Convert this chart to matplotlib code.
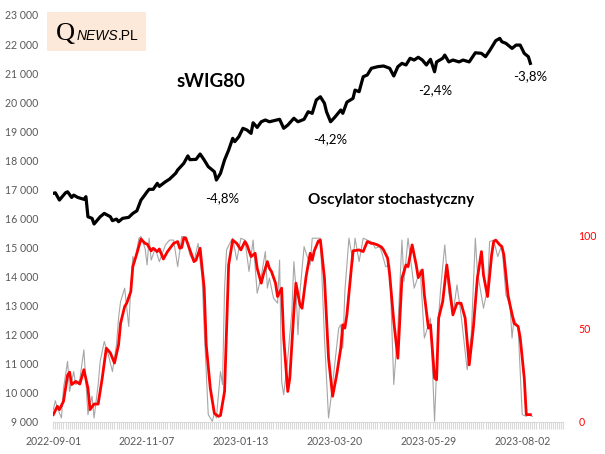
import matplotlib
matplotlib.use("Agg")
import matplotlib.pyplot as plt
from matplotlib.patches import Rectangle
from matplotlib.ticker import FuncFormatter, FixedLocator, MultipleLocator

plt.rcParams['font.family'] = ['Lato', 'DejaVu Sans']

# ---- x axis (trading-day index) ----
tick_days = [0, 46, 92, 138, 184, 230]
tick_labels = ['2022-09-01', '2022-11-07', '2023-01-13', '2023-03-20', '2023-05-29', '2023-08-02']
n_days = 250

# ---- sWIG80 index ----
black_day = [0, 1, 3, 6, 7, 9, 10, 12, 15, 16, 17, 19, 20, 23, 25, 28, 29, 31, 32, 34, 37, 39, 41, 43,
             44, 46, 47, 49, 51, 52, 55, 57, 60, 61, 64, 66, 67, 70, 72, 74, 76, 79, 80, 82, 84, 86,
             88, 89, 91, 93, 95, 97, 98, 100, 102, 104, 106, 111, 113, 115, 118, 120, 123, 125, 127,
             129, 131, 133, 134, 136, 138, 141, 142, 144, 147, 148, 150, 152, 154, 156, 159, 162,
             165, 167, 169, 171, 173, 175, 177, 179, 181, 183, 185, 187, 188, 191, 192, 194, 196,
             199, 201, 204, 207, 210, 212, 214, 217, 219, 220, 222, 225, 227, 229, 231, 233, 234]
black_val = [16862, 16880, 16630, 16880, 16915, 16720, 16800, 16720, 16655, 16745, 16055, 16000, 15805,
             16055, 16170, 16055, 15920, 15975, 15885, 16000, 16035, 16170, 16260, 16630, 16720, 16915,
             17000, 17000, 17205, 17100, 17260, 17350, 17550, 17665, 17895, 18150, 18020, 18030, 18215,
             18010, 17780, 17605, 17320, 17550, 18010, 18350, 18755, 18640, 18810, 19100, 19040, 18925,
             19290, 19130, 19325, 19385, 19325, 19410, 19100, 19210, 19445, 19325, 19410, 19670, 19615,
             20075, 20185, 19960, 19670, 19325, 19475, 19730, 19615, 20000, 20130, 20415, 20360, 20875,
             20935, 21165, 21220, 21245, 21165, 20900, 21220, 21335, 21280, 21510, 21450, 21545, 21450,
             21280, 21475, 21045, 21385, 21510, 21620, 21385, 21450, 21385, 21450, 21385, 21700, 21680,
             21565, 21770, 22115, 22195, 22080, 22025, 21850, 21965, 21965, 21680, 21565, 21335]

# ---- stochastic oscillator: %D (red, smoothed) ----
red_day = [0, 2, 3, 5, 7, 8, 9, 11, 13, 15, 17, 18, 20, 22, 24, 26, 28, 30, 32, 33, 35, 36, 38, 39, 41,
           43, 45, 46, 48, 49, 51, 52, 54, 56, 59, 61, 62, 63, 64, 65, 67, 69, 70, 72, 74, 75, 77, 79,
           81, 82, 84, 85, 86, 88, 90, 92, 94, 95, 97, 99, 100, 102, 103, 105, 106, 107, 109, 110, 112,
           113, 115, 116, 118, 119, 121, 122, 124, 126, 127, 128, 130, 131, 133, 135, 137, 139, 141,
           142, 143, 144, 146, 147, 150, 152, 154, 156, 157, 159, 161, 162, 164, 165, 167, 169, 171,
           173, 174, 176, 178, 179, 181, 182, 184, 185, 187, 188, 189, 191, 193, 194, 196, 198, 200,
           202, 204, 206, 208, 210, 211, 213, 215, 216, 217, 219, 220, 221, 223, 224, 226, 228, 229,
           231, 232, 234]
red_val = [3.8, 8.3, 6.5, 11, 25, 26.7, 20, 21.7, 20.3, 28, 18, 6.5, 9.5, 9.5, 23.5, 39.6, 37, 31.6, 41.4,
           53, 62, 63.8, 70, 83.5, 90.7, 98.4, 96, 95.7, 92, 93.4, 91.6, 93, 87.6, 91.6, 96, 97, 93.4,
           93.8, 99, 98.8, 92.5, 86.2, 87, 93.4, 71.9, 41.4, 18, 4.5, 2.9, 3.4, 16.3, 50.4, 84.4, 97.8,
           96, 92.5, 97, 95.2, 88.9, 90.7, 82.6, 74.6, 79, 86.2, 82.6, 80.9, 74.6, 67.4, 71.9, 45, 16.3,
           23.5, 59.4, 74.6, 62.9, 61.1, 78.2, 90.7, 87, 92, 97.3, 97.8, 77.3, 34.2, 13.7, 25.3, 39.6,
           52.2, 50.4, 57.5, 80.9, 92, 92.5, 91.6, 97, 96, 96, 95.2, 94, 92.5, 88, 79, 54, 34.2, 77.3,
           84.4, 83.5, 95.2, 84.4, 77.6, 81.7, 68.3, 50.4, 52.2, 23.5, 22.6, 55.8, 64.7, 84.4, 75.5,
           57.5, 63.8, 63.8, 55.8, 30.6, 50.4, 77.3, 91.6, 79, 67.4, 89.8, 97, 97.8, 95.2, 94.3, 89.8,
           68.3, 62.9, 53, 51.3, 45.2, 23.5, 3.8, 3.8]

# ---- stochastic oscillator: %K (grey, raw) ----
gray_day = [0, 1, 2, 4, 5, 7, 8, 10, 11, 13, 15, 17, 18, 19, 20, 22, 23, 25, 27, 29, 31, 32, 33, 35, 37,
            38, 39, 40, 42, 43, 45, 46, 47, 48, 50, 52, 55, 57, 59, 61, 63, 65, 67, 69, 71, 73, 74, 76,
            78, 79, 80, 82, 83, 84, 85, 87, 88, 90, 92, 94, 96, 98, 100, 102, 104, 105, 106, 108, 110,
            111, 112, 113, 115, 117, 118, 119, 120, 121, 123, 124, 126, 127, 129, 131, 133, 135, 137,
            138, 140, 141, 142, 143, 145, 147, 148, 150, 152, 154, 156, 158, 160, 161, 163, 165, 167,
            169, 171, 172, 174, 177, 180, 182, 183, 185, 187, 189, 190, 192, 194, 196, 198, 200, 203,
            205, 207, 208, 211, 213, 214, 216, 218, 220, 222, 224, 225, 226, 228, 230, 232, 233, 235]
gray_val = [6.5, 11.3, 7.4, 2, 18, 32.5, 16.3, 27, 20, 22.6, 38.7, 3.8, 9.1, 13.7, 2, 20, 32.5, 43.2, 36,
            27, 41.4, 55.8, 64.7, 71.9, 51.3, 71.9, 88.9, 86.2, 98.8, 99.7, 93.4, 84.4, 98.8, 87, 93.4,
            86.2, 95.2, 97.8, 97.8, 83.5, 99.7, 99.7, 89.8, 86.2, 96, 77.3, 50.4, 3.8, 0.2, 4.7, 2, 27,
            20, 71.9, 92.5, 97, 98.8, 87, 98.8, 97.8, 80.9, 97.8, 69.2, 78.2, 91.6, 71.9, 77.3, 66.5,
            63.8, 87, 21.7, 14.5, 34.2, 59.4, 86.2, 71.9, 46.8, 70, 94.3, 90.7, 84.4, 98.8, 98.8, 98.8,
            45, 2, 20, 30.6, 50.4, 52.2, 39.6, 70, 98.8, 86.2, 98.8, 86.2, 98.8, 97.8, 97, 93.4, 94.3,
            91.6, 83.5, 84.4, 20, 50.4, 97.8, 75.5, 98.8, 71.9, 81.7, 45, 48.6, 55.8, 0.2, 56.7, 71.9,
            95.2, 69.2, 57.5, 73.7, 57.5, 28, 46.8, 98.8, 80.9, 61.1, 71.9, 97, 97.8, 88.9, 95.2, 68.3,
            62.9, 45, 55.8, 50.4, 3.8, 2.9, 3.8, 2.9]

# ---- annotations ----
drop_labels = ['-4,8%', '-4,2%', '-2,4%', '-3,8%']
drop_day = [82.7, 135.9, 187.5, 234.1]
drop_val = [16690, 18730, 20420, 20900]

W, H = 605, 454
fig = plt.figure(figsize=(W / 100, H / 100), dpi=100)
fig.patch.set_facecolor('white')

left, right, top, bottom = 53.3, 563.0, 15.0, 421.7
ax = fig.add_axes([left / W, 1 - bottom / H, (right - left) / W, (bottom - top) / H])
ax2 = ax.twinx()

ax.set_xlim(0, n_days)
ax.set_ylim(9000, 23000)
ax2.set_ylim(0, 219)

ax.plot(black_day, black_val, color='black', lw=2.3, solid_joinstyle='round', zorder=5)
ax2.plot(gray_day, gray_val, color='#A6A6A6', lw=0.8, zorder=2)
ax2.plot(red_day, red_val, color='#FF0000', lw=2.0, solid_joinstyle='round', zorder=3)

for a in (ax, ax2):
    for s in ['top', 'left', 'right']:
        a.spines[s].set_visible(False)
ax.spines['bottom'].set_color('#D9D9D9')
ax2.spines['bottom'].set_visible(False)

ax.yaxis.set_major_locator(MultipleLocator(1000))
ax.yaxis.set_major_formatter(FuncFormatter(lambda v, p: f"{int(v):,}".replace(',', ' ')))
ax.tick_params(axis='y', length=0, pad=11, labelsize=7.6, labelcolor='#595959')

ax2.yaxis.set_major_locator(FixedLocator([0, 50, 100]))
ax2.tick_params(axis='y', length=0, pad=11, labelsize=7.6, labelcolor='#FF0000')

ax.xaxis.set_major_locator(FixedLocator(tick_days))
ax.set_xticklabels(tick_labels)
ax.xaxis.set_minor_locator(MultipleLocator(1))
ax.tick_params(axis='x', which='major', length=5, color='#D9D9D9', width=0.8, pad=5,
               labelsize=7.6, labelcolor='#595959')
ax.tick_params(axis='x', which='minor', length=5, color='#D9D9D9', width=0.8)

for lab, d, v in zip(drop_labels, drop_day, drop_val):
    ax.text(d, v, lab, ha='center', va='center', fontsize=9.5, color='black', zorder=6)

fig.text(210.5 / W, 1 - 81.7 / H, 'sWIG80', ha='center', va='center', fontsize=13.5,
         fontweight='bold', color='black')
fig.text(391 / W, 1 - 200 / H, 'Oscylator stochastyczny', ha='center', va='center',
         fontsize=11, fontweight='bold', color='black')

# logo
fig.patches.append(Rectangle((46.7 / W, 1 - 50.7 / H), (146 - 46.7) / W, (50.7 - 11.7) / H,
                             transform=fig.transFigure, facecolor='#FDE9D9', edgecolor='none',
                             zorder=0))
q = fig.text(56 / W, 1 - 39.5 / H, 'Q', ha='left', va='baseline', fontsize=19,
             family=['Liberation Serif', 'DejaVu Serif'], color='black')
fig.canvas.draw()
qb = q.get_window_extent()
news = fig.text((qb.x1 + 1) / W, 1 - 39.5 / H, 'NEWS', ha='left', va='baseline', fontsize=10,
                style='italic', family=['Liberation Sans', 'DejaVu Sans'], color='black')
fig.canvas.draw()
bb = news.get_window_extent()
fig.text(bb.x1 / W, 1 - 39.5 / H, '.PL', ha='left', va='baseline', fontsize=10,
         family=['Liberation Sans', 'DejaVu Sans'], color='black')

fig.savefig('out.png', dpi=100, facecolor='white')
